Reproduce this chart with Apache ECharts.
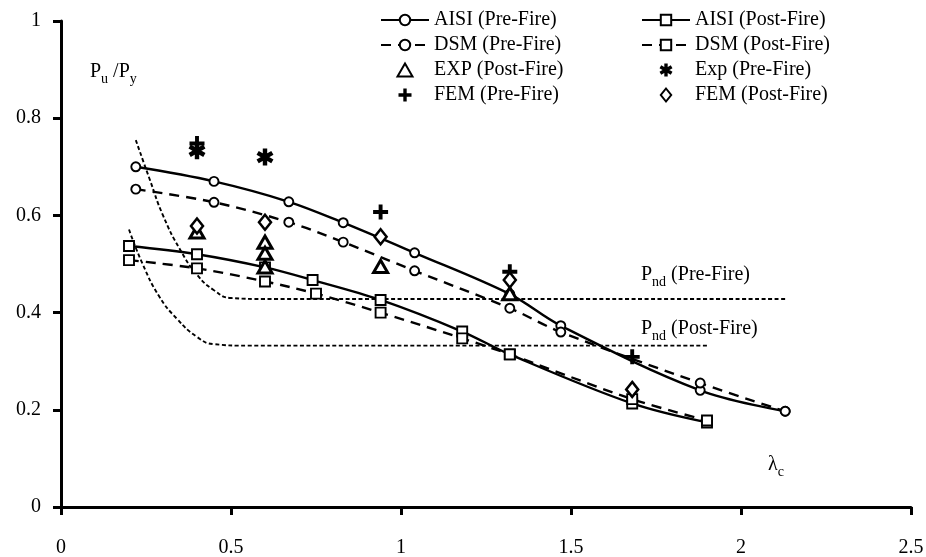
<!DOCTYPE html>
<html>
<head>
<meta charset="utf-8">
<script src="https://cdn.jsdelivr.net/npm/echarts@6/dist/echarts.min.js"></script>
<style>html,body{margin:0;padding:0;background:#fff}#c{width:926px;height:557px}</style>
</head>
<body>
<div id="c"></div>
<script>
// ---- data (lambda_c, Pu/Py) ----
var aisiPre  = [[0.22,0.70],[0.45,0.67],[0.67,0.628],[0.83,0.585],[1.04,0.523],[1.32,0.438],[1.47,0.373],[1.88,0.24],[2.13,0.197]];
var dsmPre   = [[0.22,0.654],[0.45,0.627],[0.67,0.586],[0.83,0.545],[1.04,0.486],[1.32,0.409],[1.47,0.36],[1.88,0.255],[2.13,0.197]];
var aisiPost = [[0.2,0.537],[0.4,0.52],[0.6,0.493],[0.74,0.467],[0.94,0.426],[1.18,0.361],[1.32,0.314],[1.68,0.213],[1.9,0.174]];
var dsmPost  = [[0.2,0.508],[0.4,0.491],[0.6,0.464],[0.75,0.439],[0.94,0.40],[1.18,0.347],[1.32,0.314],[1.68,0.222],[1.9,0.178]];
var expPost  = [[0.4,0.566],[0.6,0.545],[0.6,0.522],[0.6,0.494],[0.94,0.495],[1.32,0.439]];
var expPre   = [[0.4,0.733],[0.6,0.72]];
var femPre   = [[0.4,0.748],[0.94,0.607],[1.32,0.484],[1.68,0.309]];
var femPost  = [[0.4,0.578],[0.6,0.586],[0.94,0.556],[1.32,0.467],[1.68,0.242]];
var pndPre   = [[0.22,0.755],[0.26,0.676],[0.30,0.600],[0.35,0.530],[0.40,0.478],[0.45,0.446],[0.50,0.430],[0.60,0.428],[2.13,0.428]];
var pndPost  = [[0.20,0.571],[0.24,0.500],[0.29,0.432],[0.34,0.388],[0.40,0.350],[0.45,0.335],[0.55,0.332],[1.90,0.332]];
var xTicks = [0, 0.5, 1, 1.5, 2, 2.5];
var yTicks = [0, 0.2, 0.4, 0.6, 0.8, 1];

var FONT = 'Liberation Serif';

function asteriskPath(){
  var L = 50, h = 13, s = '';
  [90, 30, 150].forEach(function(deg){
    var a = deg*Math.PI/180, dx = Math.cos(a), dy = Math.sin(a), px = -dy, py = dx;
    var pts = [[L*dx+h*px, L*dy+h*py],[L*dx-h*px, L*dy-h*py],[-L*dx-h*px,-L*dy-h*py],[-L*dx+h*px,-L*dy+h*py]];
    s += 'M' + pts.map(function(p){return (p[0]+50).toFixed(2)+','+(p[1]+50).toFixed(2);}).join(' L') + ' Z ';
  });
  return 'path://' + s;
}
var plusPath = 'path://M37,0 L63,0 L63,37 L100,37 L100,63 L63,63 L63,100 L37,100 L37,63 L0,63 L0,37 L37,37 Z';
var triPath = 'path://M50,0 L100,86.6 L0,86.6 Z';
var diaPath = 'path://M40,0 L80,50 L40,100 L0,50 Z';

var chart = echarts.init(document.getElementById('c'));
function lineSeries(name, data, dashed, symbol){
  return {
    type:'line', smooth:0.35, z:3,
    name:name, data:data, symbol:symbol,
    symbolSize: symbol === 'rect' ? 10 : 9,
    lineStyle:{color:'#000', width:2.4, type: dashed ? [10,7] : 'solid'},
    itemStyle:{color:'#fff', borderColor:'#000', borderWidth:1.9}
  };
}
function pndSeries(data){
  return {type:'line', data:data, smooth:0.5, symbol:'none', silent:true, z:1,
    lineStyle:{color:'#000', width:1.9, type:[4,2.5]}};
}
function scatterSeries(name, data, symbol, size, filled, bw){
  return {type:'scatter', name:name, data:data, symbol:symbol, symbolSize:size, z:5, symbolKeepAspect:true,
    itemStyle: filled ? {color:'#000', opacity:1} : {color:'#fff', borderColor:'#000', borderWidth:bw, opacity:1}};
}
var legendText = {color:'#000', fontFamily:FONT, fontSize:20, lineHeight:20};

chart.setOption({
  animation:false,
  backgroundColor:'#fff',
  grid:{left:61, right:15, top:21, bottom:50, outerBoundsMode:'none', containLabel:false},
  xAxis:{type:'value', min:0, max:2.5, interval:0.5,
    axisLine:{lineStyle:{color:'#000', width:3}},
    axisTick:{show:true, length:8, lineStyle:{color:'#000', width:3}},
    axisLabel:{color:'#000', fontFamily:FONT, fontSize:20, margin:31,
      formatter:function(v){ return xTicks.indexOf(+v.toFixed(2)) >= 0 ? String(+v.toFixed(2)) : ''; }},
    splitLine:{show:false}},
  yAxis:{type:'value', min:0, max:1, interval:0.2,
    axisLine:{show:true, lineStyle:{color:'#000', width:3}},
    axisTick:{show:true, length:8, lineStyle:{color:'#000', width:3}},
    axisLabel:{color:'#000', fontFamily:FONT, fontSize:20, margin:20,
      formatter:function(v){ return yTicks.indexOf(+v.toFixed(2)) >= 0 ? String(+v.toFixed(2)) : ''; }},
    splitLine:{show:false}},
  legend:[
    {orient:'vertical', left:375, top:5, itemWidth:48, itemHeight:13, itemGap:5, symbolKeepAspect:true,
     textStyle:legendText,
     data:['AISI (Pre-Fire)','DSM (Pre-Fire)','EXP (Post-Fire)','FEM (Pre-Fire)']},
    {orient:'vertical', left:636, top:5, itemWidth:48, itemHeight:13, itemGap:5, symbolKeepAspect:true,
     textStyle:legendText,
     data:['AISI (Post-Fire)','DSM (Post-Fire)','Exp (Pre-Fire)','FEM (Post-Fire)']}
  ],
  graphic:[
    {type:'text', left:90, top:62, style:{fill:'#000', rich:{a:{fontFamily:FONT,fontSize:20,lineHeight:28}, s:{fontFamily:FONT,fontSize:14,lineHeight:14,verticalAlign:'bottom'}}, text:'{a|P}{s|u}{a| /P}{s|y}'}},
    {type:'text', left:768, top:455, style:{fill:'#000', rich:{a:{fontFamily:FONT,fontSize:20,lineHeight:28}, s:{fontFamily:FONT,fontSize:14,lineHeight:14,verticalAlign:'bottom'}}, text:'{a|λ}{s|c}'}},
    {type:'text', left:641, top:265, style:{fill:'#000', rich:{a:{fontFamily:FONT,fontSize:20,lineHeight:28}, s:{fontFamily:FONT,fontSize:14,lineHeight:14,verticalAlign:'bottom'}}, text:'{a|P}{s|nd}{a| (Pre-Fire)}'}},
    {type:'text', left:641, top:319, style:{fill:'#000', rich:{a:{fontFamily:FONT,fontSize:20,lineHeight:28}, s:{fontFamily:FONT,fontSize:14,lineHeight:14,verticalAlign:'bottom'}}, text:'{a|P}{s|nd}{a| (Post-Fire)}'}}
  ],
  series:[
    pndSeries(pndPre),
    pndSeries(pndPost),
    lineSeries('AISI (Pre-Fire)', aisiPre, false, 'circle'),
    lineSeries('DSM (Pre-Fire)', dsmPre, true, 'circle'),
    lineSeries('AISI (Post-Fire)', aisiPost, false, 'rect'),
    lineSeries('DSM (Post-Fire)', dsmPost, true, 'rect'),
    scatterSeries('EXP (Post-Fire)', expPost, triPath, 14, false, 3),
    scatterSeries('Exp (Pre-Fire)', expPre, asteriskPath(), 17, true, 0),
    scatterSeries('FEM (Pre-Fire)', femPre, plusPath, 15, true, 0),
    scatterSeries('FEM (Post-Fire)', femPost, diaPath, 15, false, 2.5)
  ]
});
</script>
</body>
</html>
